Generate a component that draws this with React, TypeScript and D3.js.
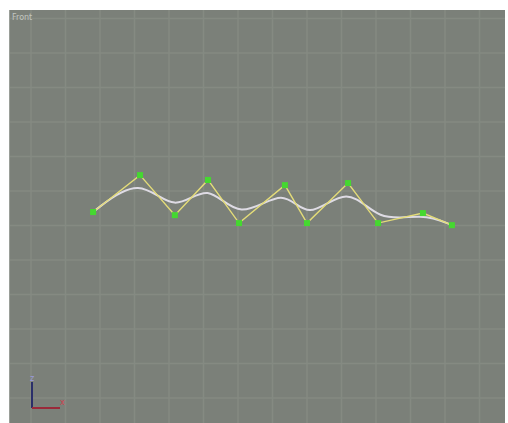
import React from "react";
import * as d3 from "d3";

const viewLabel = "Front";
const gridXs = [-2, -1, 0, 1, 2, 3, 4, 5, 6, 7, 8, 9, 10, 11];
const gridYs = [0, 1, 2, 3, 4, 5, 6, 7, 8, 9, 10, 11];
const knotX = [-0.2, 1.16, 2.17, 3.13, 4.03, 5.36, 6.0, 7.19, 8.06, 9.36, 10.2];
const knotY = [5.39, 6.46, 5.3, 6.32, 5.07, 6.17, 5.07, 6.23, 5.07, 5.36, 5.01];

export default function App() {
  const W = 508, H = 423;
  const x = d3.scaleLinear().domain([0, 1]).range([100, 134.5]);
  const y = d3.scaleLinear().domain([0, 1]).range([398, 363.5]);
  const pts: [number, number][] = knotX.map((v, i) => [x(v), y(knotY[i])]);
  const linear = d3.line().curve(d3.curveLinear)(pts) || "";
  const smooth = d3.line().curve(d3.curveBasis)(pts) || "";
  const left = 9, top = 10, right = 505, bottom = 423;
  return (
    <svg width={W} height={H} style={{ position: "absolute", left: 0, top: 0 }}>
      <rect x={0} y={0} width={W} height={H} fill="#ffffff" />
      <rect x={left} y={top} width={right - left} height={bottom - top} fill="#7b8079" />
      <g stroke="#858a82" strokeWidth={1.5}>
        {gridXs.map((g) => (
          <line key={"vx" + g} x1={x(g)} x2={x(g)} y1={top} y2={bottom} />
        ))}
        {gridYs.map((g) => (
          <line key={"hy" + g} x1={left} x2={right} y1={y(g)} y2={y(g)} />
        ))}
      </g>
      <line x1={left + 0.5} x2={left + 0.5} y1={top} y2={bottom} stroke="#9a9e98" />
      <text x={12} y={20} fontSize={8} fill="#c2c6c0" fontFamily="DejaVu Sans, sans-serif">{viewLabel}</text>
      <path d={smooth} fill="none" stroke="#dedbe4" strokeWidth={2} />
      <path d={linear} fill="none" stroke="#e4dc78" strokeWidth={1.4} />
      {pts.map((p, i) => (
        <rect key={i} x={p[0] - 3} y={p[1] - 3} width={6} height={6} fill="#45d830" />
      ))}
      <g>
        <line x1={32} x2={32} y1={382} y2={408} stroke="#2a2f6a" strokeWidth={2} />
        <line x1={32} x2={60} y1={408} y2={408} stroke="#9a2a3a" strokeWidth={2} />
        <text x={30} y={381} fontSize={8} fill="#9a9ad8" fontFamily="DejaVu Sans, sans-serif">z</text>
        <text x={60} y={405} fontSize={8} fill="#d04050" fontFamily="DejaVu Sans, sans-serif">x</text>
      </g>
    </svg>
  );
}
